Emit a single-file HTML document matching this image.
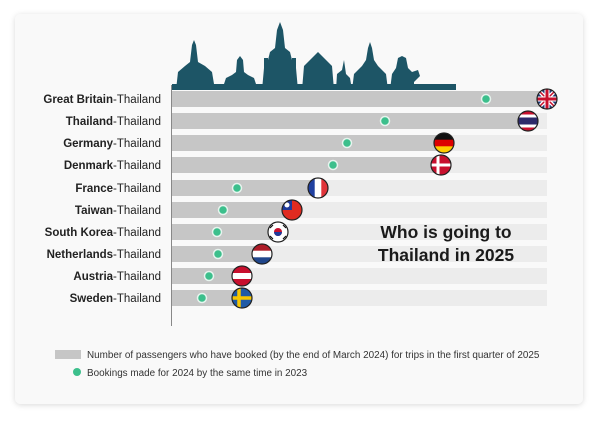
<!DOCTYPE html><html><head><style>
body{margin:0;width:600px;height:418px;background:#fff;font-family:"Liberation Sans",sans-serif;overflow:hidden}
</style></head><body>
<svg width="600" height="418" xmlns="http://www.w3.org/2000/svg" font-family="Liberation Sans, sans-serif">
<defs><filter id="sh" x="-5%" y="-5%" width="110%" height="110%"><feDropShadow dx="0" dy="1" stdDeviation="3" flood-color="#000" flood-opacity="0.15"/></filter>
<clipPath id="c"><circle r="10"/></clipPath></defs>
<rect x="15" y="14" width="568" height="390" rx="6" fill="#f9f9f9" filter="url(#sh)"/>
<g fill="#1d5566">
<rect x="172" y="84" width="284" height="6"/>
<polygon points="176,90 178,72 185,66 190,62 192,45 194,40 196,45 198,62 205,66 212,72 215,90"/>
<rect x="180" y="72" width="32" height="18"/>
<polygon points="222,90 226,78 232,75 236,72 237,60 240,56 243,60 244,72 248,75 254,78 258,90"/>
<polygon points="262,90 264,68 268,60 270,52 275,48 277,30 280,22 283,30 285,48 290,52 292,60 296,68 298,90"/>
<rect x="264" y="58" width="4" height="32"/><rect x="292" y="58" width="4" height="32"/>
<polygon points="302,90 304,66 310,60 318,52 326,60 332,66 334,90"/>
<polygon points="336,90 337,74 342,70 344,60 346,74 350,78 352,90"/>
<polygon points="352,90 354,74 362,66 366,60 368,48 370,42 372,48 374,60 378,66 386,74 388,90"/>
<polygon points="390,90 392,74 396,68 398,58 402,56 406,58 408,68 412,72 418,70 420,76 414,82 414,90"/>
</g>
<line x1="171.5" y1="85" x2="171.5" y2="326" stroke="#888" stroke-width="1"/>
<g font-size="11.5" fill="#222" text-anchor="end">
<text x="161" y="103"><tspan font-weight="bold">Great Britain</tspan>-Thailand</text>
<text x="161" y="125"><tspan font-weight="bold">Thailand</tspan>-Thailand</text>
<text x="161" y="147"><tspan font-weight="bold">Germany</tspan>-Thailand</text>
<text x="161" y="169"><tspan font-weight="bold">Denmark</tspan>-Thailand</text>
<text x="161" y="192"><tspan font-weight="bold">France</tspan>-Thailand</text>
<text x="161" y="214"><tspan font-weight="bold">Taiwan</tspan>-Thailand</text>
<text x="161" y="236"><tspan font-weight="bold">South Korea</tspan>-Thailand</text>
<text x="161" y="258"><tspan font-weight="bold">Netherlands</tspan>-Thailand</text>
<text x="161" y="280"><tspan font-weight="bold">Austria</tspan>-Thailand</text>
<text x="161" y="302"><tspan font-weight="bold">Sweden</tspan>-Thailand</text>
</g>
<g>
<g fill="#ececec">
<rect x="172" y="91" width="375" height="16"/><rect x="172" y="113" width="375" height="16"/>
<rect x="172" y="135" width="375" height="16"/><rect x="172" y="157" width="375" height="16"/>
<rect x="172" y="180" width="375" height="16"/><rect x="172" y="202" width="375" height="16"/>
<rect x="172" y="224" width="375" height="16"/><rect x="172" y="246" width="375" height="16"/>
<rect x="172" y="268" width="375" height="16"/><rect x="172" y="290" width="375" height="16"/>
</g>
<g fill="#c6c6c6">
<rect x="172" y="91" width="375" height="16"/><rect x="172" y="113" width="356" height="16"/>
<rect x="172" y="135" width="272" height="16"/><rect x="172" y="157" width="269" height="16"/>
<rect x="172" y="180" width="146" height="16"/><rect x="172" y="202" width="120" height="16"/>
<rect x="172" y="224" width="106" height="16"/><rect x="172" y="246" width="90" height="16"/>
<rect x="172" y="268" width="70" height="16"/><rect x="172" y="290" width="70" height="16"/>
</g>
<g fill="#3cbf8c" stroke="#e6f4ee" stroke-width="1.5">
<circle cx="486" cy="99" r="4.5"/><circle cx="385" cy="121" r="4.5"/><circle cx="347" cy="143" r="4.5"/>
<circle cx="333" cy="165" r="4.5"/><circle cx="237" cy="188" r="4.5"/><circle cx="223" cy="210" r="4.5"/>
<circle cx="217" cy="232" r="4.5"/><circle cx="218" cy="254" r="4.5"/><circle cx="209" cy="276" r="4.5"/>
<circle cx="202" cy="298" r="4.5"/>
</g>
</g>
<g transform="translate(547,99)"><g clip-path="url(#c)"><rect x="-10" y="-10" width="20" height="20" fill="#1f3a7a"/><path d="M-10-10L10 10M10-10L-10 10" stroke="#fff" stroke-width="4"/><path d="M-10-10L10 10M10-10L-10 10" stroke="#c8102e" stroke-width="1.5"/><path d="M0-10V10M-10 0H10" stroke="#fff" stroke-width="5"/><path d="M0-10V10M-10 0H10" stroke="#c8102e" stroke-width="3"/></g><circle r="10" fill="none" stroke="#222" stroke-width="1.2"/></g>
<g transform="translate(528,121)"><g clip-path="url(#c)"><rect x="-10" y="-10" width="20" height="20" fill="#c8102e"/><rect x="-10" y="-6.5" width="20" height="13" fill="#fff"/><rect x="-10" y="-3.5" width="20" height="7" fill="#2d2a6a"/></g><circle r="10" fill="none" stroke="#222" stroke-width="1.2"/></g>
<g transform="translate(444,143)"><g clip-path="url(#c)"><rect x="-10" y="-10" width="20" height="7" fill="#111"/><rect x="-10" y="-3.3" width="20" height="7" fill="#d00"/><rect x="-10" y="3.3" width="20" height="7" fill="#fc0"/></g><circle r="10" fill="none" stroke="#222" stroke-width="1.2"/></g>
<g transform="translate(441,165)"><g clip-path="url(#c)"><rect x="-10" y="-10" width="20" height="20" fill="#c8102e"/><path d="M-3-10V10M-10 0H10" stroke="#fff" stroke-width="3"/></g><circle r="10" fill="none" stroke="#222" stroke-width="1.2"/></g>
<g transform="translate(318,188)"><g clip-path="url(#c)"><rect x="-10" y="-10" width="7" height="20" fill="#1f3fa0"/><rect x="-3.3" y="-10" width="7" height="20" fill="#fff"/><rect x="3.3" y="-10" width="7" height="20" fill="#e0343a"/></g><circle r="10" fill="none" stroke="#222" stroke-width="1.2"/></g>
<g transform="translate(292,210)"><g clip-path="url(#c)"><rect x="-10" y="-10" width="20" height="20" fill="#e02b20"/><rect x="-10" y="-10" width="10" height="10" fill="#1f3a9a"/><circle cx="-5" cy="-5" r="2.5" fill="#fff"/></g><circle r="10" fill="none" stroke="#222" stroke-width="1.2"/></g>
<g transform="translate(278,232)"><circle r="10" fill="#fff"/><circle r="4" fill="#c8102e"/><path d="M-4 0A4 4 0 0 0 4 0Z" fill="#1f3a9a"/><g stroke="#111" stroke-width="1.2"><path d="M-8-4l3-3M5-7l3 3M-8 4l3 3M5 7l3-3"/></g><circle r="10" fill="none" stroke="#222" stroke-width="1.2"/></g>
<g transform="translate(262,254)"><g clip-path="url(#c)"><rect x="-10" y="-10" width="20" height="7" fill="#ae1c28"/><rect x="-10" y="-3.3" width="20" height="7" fill="#fff"/><rect x="-10" y="3.3" width="20" height="7" fill="#21468b"/></g><circle r="10" fill="none" stroke="#222" stroke-width="1.2"/></g>
<g transform="translate(242,276)"><g clip-path="url(#c)"><rect x="-10" y="-10" width="20" height="20" fill="#c8102e"/><rect x="-10" y="-3" width="20" height="6" fill="#fff"/></g><circle r="10" fill="none" stroke="#222" stroke-width="1.2"/></g>
<g transform="translate(242,298)"><g clip-path="url(#c)"><rect x="-10" y="-10" width="20" height="20" fill="#1f5aa6"/><path d="M-3-10V10M-10 0H10" stroke="#f7c600" stroke-width="3.5"/></g><circle r="10" fill="none" stroke="#222" stroke-width="1.2"/></g>
<g font-size="17.5" font-weight="bold" fill="#1a1a1a" text-anchor="middle">
<text x="446" y="238">Who is going to</text>
<text x="446" y="261">Thailand in 2025</text>
</g>
<rect x="55" y="350" width="26" height="9" fill="#c6c6c6"/>
<text x="87" y="358" font-size="9.9" fill="#333">Number of passengers who have booked (by the end of March 2024) for trips in the first quarter of 2025</text>
<circle cx="77" cy="372" r="4" fill="#3cbf8c"/>
<text x="87" y="376" font-size="9.9" fill="#333">Bookings made for 2024 by the same time in 2023</text>
</svg>
</body></html>
